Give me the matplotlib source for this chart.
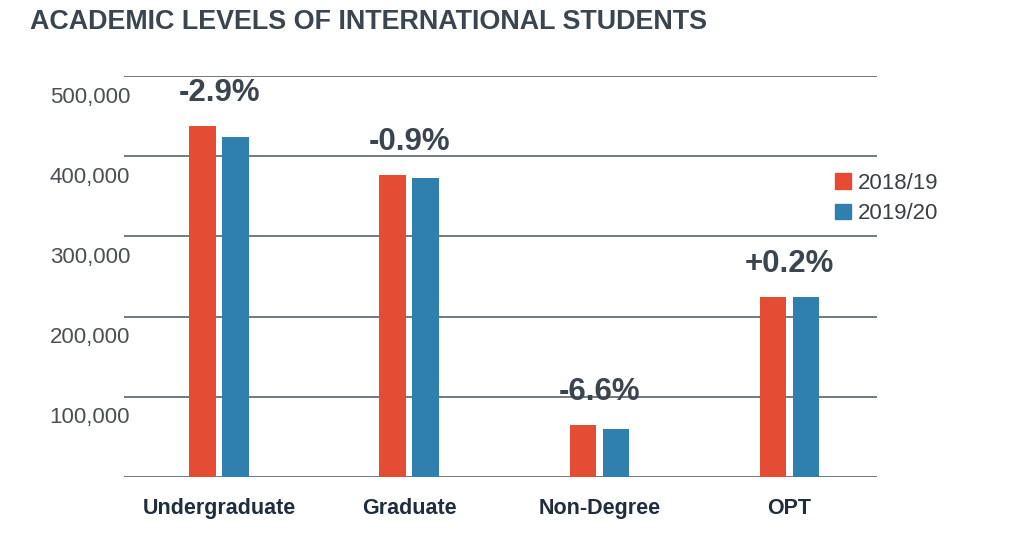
import matplotlib
matplotlib.use("Agg")
import matplotlib.pyplot as plt
import matplotlib.transforms as mtransforms
from matplotlib.patches import Patch
import numpy as np

# data
categories = ["Undergraduate", "Graduate", "Non-Degree", "OPT"]
enrol_2018 = [437500, 376000, 65000, 224500]
enrol_2019 = [424000, 373000, 60000, 225000]
change_labels = ["-2.9%", "-0.9%", "-6.6%", "+0.2%"]
y_ticks = [0, 100000, 200000, 300000, 400000, 500000]
series_names = ["2018/19", "2019/20"]

RED = "#e44c34"
BLUE = "#2f80ae"
GRID = "#66707a"
TEXT = "#3b4550"
LABEL = "#1f2d3d"

plt.rcParams["font.family"] = ["Liberation Sans", "DejaVu Sans"]

fig = plt.figure(figsize=(10.2, 5.48), dpi=100)
ax = fig.add_axes([124 / 1020, 71 / 548, 753 / 1020, 401 / 548])

x = np.arange(len(categories))
w = 0.14
off = 0.087
ax.bar(x - off, enrol_2018, w, color=RED, zorder=3)
ax.bar(x + off, enrol_2019, w, color=BLUE, zorder=3)

ax.set_xlim(-0.5, 3.46)
ax.set_ylim(0, 500000)
ax.set_yticks(y_ticks)
ax.yaxis.grid(True, color=GRID, linewidth=1.3, zorder=0)
ax.set_yticklabels([])
ax.tick_params(axis="y", length=0)
for s in ax.spines.values():
    s.set_visible(False)

# y labels sit just under their gridlines
blend = mtransforms.blended_transform_factory(ax.transAxes, ax.transData)
lab_tr = mtransforms.offset_copy(blend, fig=fig, x=6, y=-21, units="dots")
for v in y_ticks[1:]:
    ax.text(0, v, f"{v:,}", transform=lab_tr, ha="right", va="center",
            fontsize=16, color="#4a4f55")

ax.set_xticks(x)
ax.set_xticklabels(categories, fontsize=15.5, fontweight="bold", color=LABEL)
ax.tick_params(axis="x", length=0, pad=15)

# percent change above each pair
pct_tr = mtransforms.offset_copy(ax.transData, fig=fig, y=18, units="dots")
for i, txt in enumerate(change_labels):
    top = max(enrol_2018[i], enrol_2019[i])
    ax.text(x[i], top, txt, transform=pct_tr, ha="center", va="bottom",
            fontsize=22.5, fontweight="bold", color=TEXT)

handles = [Patch(color=RED), Patch(color=BLUE)]
fig.legend(handles, series_names, loc="upper left",
           bbox_to_anchor=(835 / 1020, 1 - 173 / 548), frameon=False,
           fontsize=16, handlelength=0.7, handleheight=0.7, handletextpad=0.35,
           labelspacing=0.42, borderpad=0, borderaxespad=0, labelcolor="#3a3f45")

fig.text(30 / 1020, 1 - 22 / 548, "ACADEMIC LEVELS OF INTERNATIONAL STUDENTS",
         ha="left", va="center", fontsize=19.4, fontweight="bold", color=TEXT)

fig.savefig("out.png", dpi=100, facecolor="white")
